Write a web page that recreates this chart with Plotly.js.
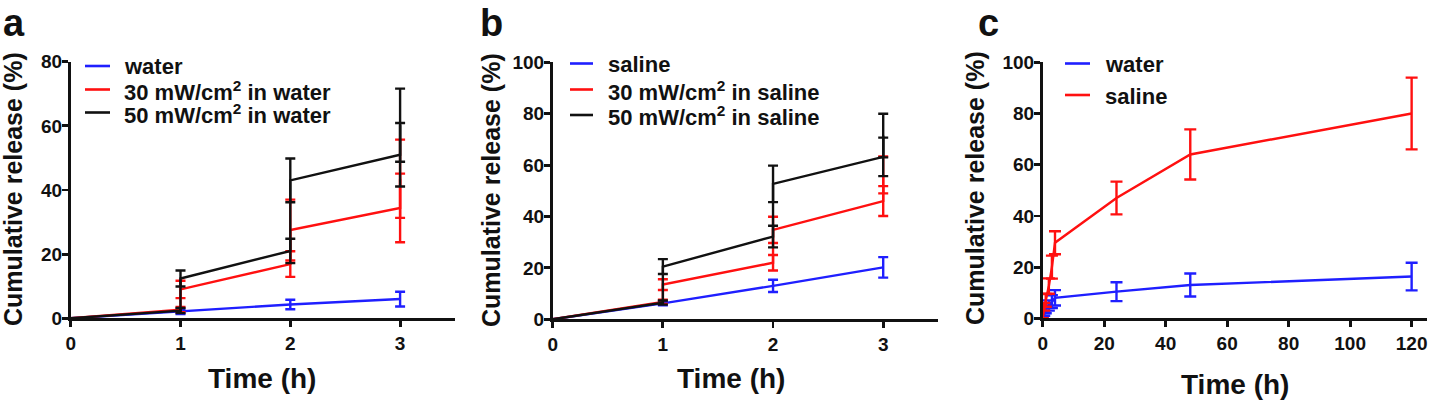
<!DOCTYPE html>
<html>
<head>
<meta charset="utf-8">
<script src="https://cdn.plot.ly/plotly-3.0.1.min.js"></script>
<style>html,body{margin:0;padding:0;background:#fff;}#chart{width:1430px;height:402px;}</style>
</head>
<body>
<div id="chart"></div>
<script>
// ---------- Data ----------
// Panel a (water)
const aWaterX = [0, 1, 2, 3];
const aWaterY = [0, 2.1, 4.3, 6.0];
const aWaterE = [0, 0.8, 1.5, 2.3];
const a30X = [0, 1, 1, 2, 2, 3, 3];
const a30Y = [0, 2.7, 9.0, 16.9, 27.5, 34.4, 43.5];
const a30E = [0, 0.8, 2.7, 4.0, 9.5, 10.7, 12.2];
const a50X = [0, 1, 1, 2, 2, 3, 3];
const a50Y = [0, 2.4, 12.4, 21.0, 43.0, 51.0, 60.2];
const a50E = [0, 0.8, 2.5, 3.8, 6.8, 9.9, 11.4];
// Panel b (saline)
const bSalX = [0, 1, 2, 3];
const bSalY = [0, 6.2, 13.0, 20.2];
const bSalE = [0, 0.8, 2.4, 4.0];
const b30X = [0, 1, 1, 2, 2, 3, 3];
const b30Y = [0, 6.8, 13.5, 22.0, 34.8, 46.0, 56.2];
const b30E = [0, 0.8, 2.1, 3.0, 5.1, 5.8, 7.2];
const b50X = [0, 1, 1, 2, 2, 3, 3];
const b50Y = [0, 6.5, 20.5, 32.2, 52.7, 63.2, 71.5];
const b50E = [0, 0.8, 2.9, 4.2, 7.1, 7.5, 8.5];
// Panel c (long-term)
const cTime = [0, 0.5, 1, 2, 3, 4, 24, 48, 120];
const cWaterY = [0, 2.0, 3.5, 5.0, 6.5, 8.0, 10.4, 13.0, 16.3];
const cWaterE = [0, 1.0, 1.5, 2.0, 2.5, 3.0, 3.7, 4.5, 5.4];
const cSalY = [0, 4.5, 7.0, 12.6, 20.0, 29.5, 47.0, 64.0, 80.0];
const cSalE = [0, 1.5, 2.5, 3.0, 4.5, 4.5, 6.4, 9.8, 14.0];

// Labels
const legendA = ['water', '30 mW/cm<sup>2</sup> in water', '50 mW/cm<sup>2</sup> in water'];
const legendB = ['saline', '30 mW/cm<sup>2</sup> in saline', '50 mW/cm<sup>2</sup> in saline'];
const legendC = ['water', 'saline'];
const panelLetters = ['a', 'b', 'c'];
const yTitle = 'Cumulative release (%)';
const xTitle = 'Time (h)';
const ticksAB = [0, 1, 2, 3];
const ticksC = [0, 20, 40, 60, 80, 100, 120];

// ---------- Styling ----------
const BLUE = '#1f1fff', RED = '#ff1010', BLACK = '#111111';
const FONT = 'Liberation Sans, Arial, Helvetica, sans-serif';
const W = 1430, H = 402;
const px = x => x / W;
const py = y => 1 - y / H;

function tr(x, y, e, color, xa, ya, capw) {
  return {
    x: x, y: y, type: 'scatter', mode: 'lines',
    xaxis: xa, yaxis: ya, cliponaxis: false, showlegend: false,
    line: {color: color, width: 2.4},
    error_y: {type: 'data', array: e, visible: true, color: color, thickness: 2.4, width: capw}
  };
}

const data = [
  tr(aWaterX, aWaterY, aWaterE, BLUE, 'x', 'y', 5),
  tr(a30X, a30Y, a30E, RED, 'x', 'y', 5),
  tr(a50X, a50Y, a50E, BLACK, 'x', 'y', 5),
  tr(bSalX, bSalY, bSalE, BLUE, 'x2', 'y2', 5),
  tr(b30X, b30Y, b30E, RED, 'x2', 'y2', 5),
  tr(b50X, b50Y, b50E, BLACK, 'x2', 'y2', 5),
  tr(cTime, cWaterY, cWaterE, BLUE, 'x3', 'y3', 6),
  tr(cTime, cSalY, cSalE, RED, 'x3', 'y3', 6)
];

function axisBase(extra) {
  return Object.assign({
    showline: true, linecolor: '#111', linewidth: 2.8,
    ticks: 'outside', ticklen: 6, tickwidth: 2.8, tickcolor: '#111',
    showgrid: false, zeroline: false, fixedrange: true,
    tickfont: {family: FONT, size: 19, color: '#111', weight: 'bold'}
  }, extra);
}

const layout = {
  width: W, height: H,
  margin: {l: 0, r: 0, t: 0, b: 0},
  paper_bgcolor: '#fff', plot_bgcolor: '#fff',
  showlegend: false,
  xaxis: axisBase({domain: [px(70.7), px(455)], range: [0, 3.5], tickvals: ticksAB, anchor: 'y'}),
  yaxis: axisBase({domain: [py(318.3), py(61.7)], range: [0, 80], dtick: 20, anchor: 'x', ticklabelstandoff: -4}),
  xaxis2: axisBase({domain: [px(552.7), px(938.3)], range: [0, 3.5], tickvals: ticksAB, anchor: 'y2'}),
  yaxis2: axisBase({domain: [py(319.3), py(62.3)], range: [0, 100], dtick: 20, anchor: 'x2', ticklabelstandoff: -4}),
  xaxis3: axisBase({domain: [px(1042.7), px(1427)], range: [0, 125], tickvals: ticksC, anchor: 'y3'}),
  yaxis3: axisBase({domain: [py(318.3), py(62.3)], range: [0, 100], dtick: 20, anchor: 'x3', ticklabelstandoff: -4}),
  annotations: [],
  shapes: []
};

function ann(text, x, y, size, opts) {
  layout.annotations.push(Object.assign({
    text: text, xref: 'paper', yref: 'paper', x: px(x), y: py(y),
    showarrow: false, xanchor: 'center', yanchor: 'middle',
    font: {family: FONT, size: size, color: '#111', weight: 'bold'}
  }, opts || {}));
}

// Panel letters
ann(panelLetters[0], 14, 0, 38, {yanchor: 'top'});
ann(panelLetters[1], 491, 0, 38, {yanchor: 'top'});
ann(panelLetters[2], 988, 0, 38, {yanchor: 'top'});

// Axis titles
ann(yTitle, 13, 189, 25, {textangle: -90});
ann(yTitle, 491, 190, 25, {textangle: -90});
ann(yTitle, 975, 188, 25, {textangle: -90});
ann(xTitle, 262, 378, 28);
ann(xTitle, 731, 378, 28);
ann(xTitle, 1235, 384, 28);

// Legends
function legend(labels, colors, x0, x1, tx, ys) {
  labels.forEach((lab, i) => {
    layout.shapes.push({type: 'line', xref: 'paper', yref: 'paper',
      x0: px(x0), x1: px(x1), y0: py(ys[i]), y1: py(ys[i]),
      line: {color: colors[i], width: 2.6}});
    ann(lab, tx, ys[i] + 1, 22, {xanchor: 'left'});
  });
}
legend(legendA, [BLUE, RED, BLACK], 85, 110, 122, [66, 89.5, 112.5]);
legend(legendB, [BLUE, RED, BLACK], 570, 593, 606, [63.5, 89.5, 115]);
legend(legendC, [BLUE, RED], 1065, 1090, 1103, [63.5, 95]);

Plotly.newPlot('chart', data, layout, {displayModeBar: false, staticPlot: true});
</script>
</body>
</html>
